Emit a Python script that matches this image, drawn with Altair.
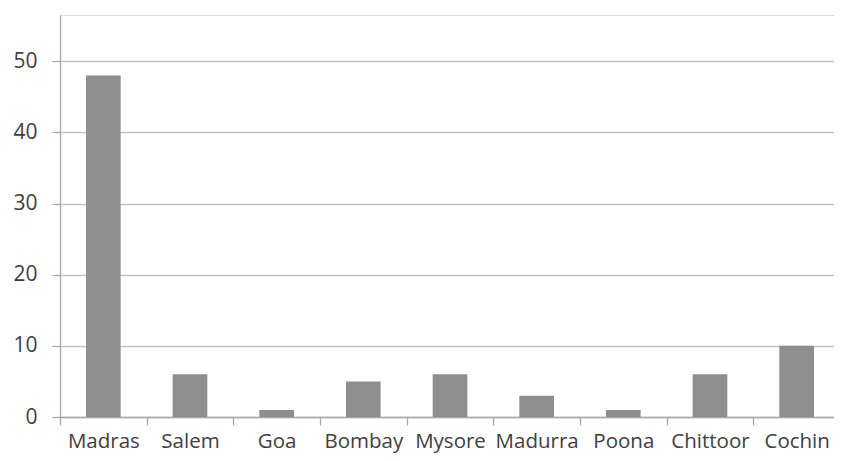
import altair as alt
import pandas as pd

cities = ["Madras", "Salem", "Goa", "Bombay", "Mysore", "Madurra", "Poona", "Chittoor", "Cochin"]
values = [48, 6, 1, 5, 6, 3, 1, 6, 10]
y_ticks = [0, 10, 20, 30, 40, 50]

df = pd.DataFrame({"city": cities, "value": values})

FONT = "Open Sans"
LABEL_COLOR = "#404040"
AXIS_COLOR = "#a8a8a8"
GRID_COLOR = "#c2c2c2"

xscale = alt.Scale(paddingInner=0, paddingOuter=0, range=[0, 780])
yscale = alt.Scale(domain=[0, 56.5], nice=False)

bars = alt.Chart(df).mark_bar(color="#8e8e8e", width=alt.RelativeBandSize(0.4)).encode(
    x=alt.X("city:N", sort=cities, scale=xscale,
            axis=alt.Axis(title=None, labelAngle=0, ticks=True, tickBand="extent",
                          tickSize=8, tickWidth=1.3, tickColor=AXIS_COLOR,
                          domain=True, domainColor=AXIS_COLOR, domainWidth=1.3,
                          labelPadding=6, labelFont=FONT, labelFontSize=20.5,
                          labelColor=LABEL_COLOR, grid=False)),
    y=alt.Y("value:Q", scale=yscale,
            axis=alt.Axis(title=None, values=y_ticks, grid=True, gridColor=GRID_COLOR,
                          gridWidth=1.3, domainColor=AXIS_COLOR, domainWidth=1.3,
                          tickColor=AXIS_COLOR, tickSize=8, tickWidth=1.3,
                          labelPadding=15, labelFont=FONT, labelFontSize=21,
                          labelColor=LABEL_COLOR)),
)

chart = (
    bars
    .properties(width=774, height=402,
                autosize=alt.AutoSizeParams(type="none"),
                padding={"left": 52, "top": 7, "right": 0, "bottom": 36})
    .configure_view(stroke=None)
    .configure(background="white")
)

chart.save("out.html", embed_options={"renderer": "svg", "actions": False})
